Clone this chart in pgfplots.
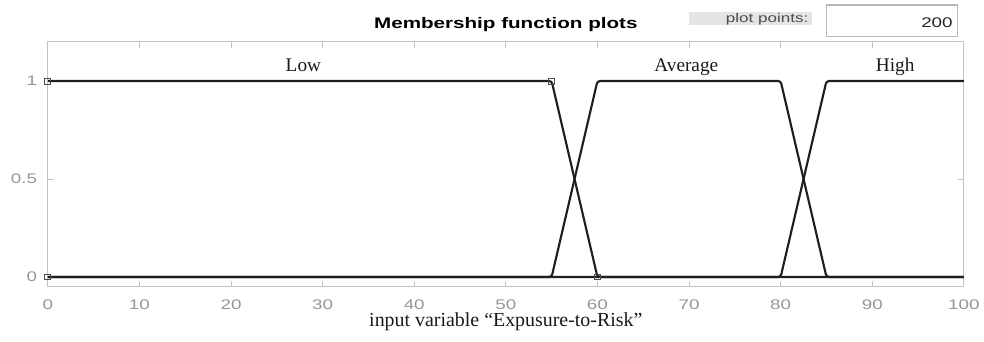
\documentclass[border=0pt]{standalone}
\usepackage{fontspec}
\setmainfont{Liberation Serif}
\newfontfamily\mlsans[FakeStretch=1.35]{Liberation Sans}
\usepackage{pgfplots}
\pgfplotsset{compat=1.18}
\definecolor{axgray}{RGB}{195,195,195}
\definecolor{tickgray}{RGB}{150,150,150}
\definecolor{curve}{RGB}{30,30,30}
\definecolor{boxgray}{RGB}{228,228,228}
\definecolor{boxedge}{RGB}{185,185,185}
\begin{document}
\begin{tikzpicture}
\begin{axis}[name=ax, scale only axis, width=690pt, height=184.5pt,
  xmin=0, xmax=100, ymin=-0.05, ymax=1.2,
  xtick={0,10,...,100}, ytick={0,0.5,1}, yticklabels={0,0.5,1},
  tick align=inside, major tick length=4.5pt,
  axis line style={axgray, line width=0.9pt},
  tick style={axgray, line width=0.7pt},
  /pgf/number format/assume math mode=true,
  ticklabel style={font=\mlsans\fontsize{10.5}{12}\selectfont, text=tickgray},
  xticklabel style={yshift=-6.5pt},
  yticklabel style={xshift=-4.5pt},
  xlabel={input variable “Expusure-to-Risk”},
  xlabel style={at={(rel axis cs:0.5,0)}, anchor=base, yshift=-30pt, font=\fontsize{15}{18}\selectfont, text=black!90},
  title={Membership function plots},
  title style={at={(rel axis cs:0.5,1)}, anchor=base, yshift=3.75pt, font=\mlsans\bfseries\fontsize{11.5}{14}\selectfont},
  clip=false]
\addplot[curve, line width=1.6pt, rounded corners=2pt] coordinates {(0,1) (55,1) (60,0) (100,0)};
\addplot[curve, line width=1.6pt, rounded corners=2pt] coordinates {(0,0) (55,0) (60,1) (80,1) (85,0) (100,0)};
\addplot[curve, line width=1.6pt, rounded corners=2pt] coordinates {(0,0) (80,0) (85,1) (100,1)};
\addplot[only marks, mark=square, mark size=2.2pt, mark options={curve!80, line width=0.6pt}] coordinates {(0,0) (0,1) (55,1) (60,0)};
\node[anchor=base, font=\fontsize{14.5}{17}\selectfont, text=black!90] at (axis cs:27.9,1.046) {Low};
\node[anchor=base, font=\fontsize{14.5}{17}\selectfont, text=black!90] at (axis cs:69.7,1.046) {Average};
\node[anchor=base, font=\fontsize{14.5}{17}\selectfont, text=black!90] at (axis cs:92.5,1.046) {High};
\end{axis}
\fill[boxgray] ([xshift=483pt,yshift=12.75pt]ax.north west) rectangle ([xshift=575.25pt,yshift=22.5pt]ax.north west);
\node[anchor=base east, inner sep=0pt, font=\mlsans\fontsize{9.5}{11}\selectfont, text=black!70] at ([xshift=573pt,yshift=14.25pt]ax.north west) {plot points:};
\draw[boxedge, line width=0.8pt, fill=white] ([xshift=586.5pt,yshift=3.75pt]ax.north west) rectangle ([xshift=685.5pt,yshift=27.75pt]ax.north west);
\node[anchor=base east, inner sep=0pt, font=\mlsans\fontsize{10.5}{12}\selectfont, text=black!85] at ([xshift=681.75pt,yshift=10.5pt]ax.north west) {200};
\path ([xshift=-36pt,yshift=-41.25pt]ax.south west) rectangle ([xshift=12pt,yshift=31.5pt]ax.north east);
\end{tikzpicture}
\end{document}
